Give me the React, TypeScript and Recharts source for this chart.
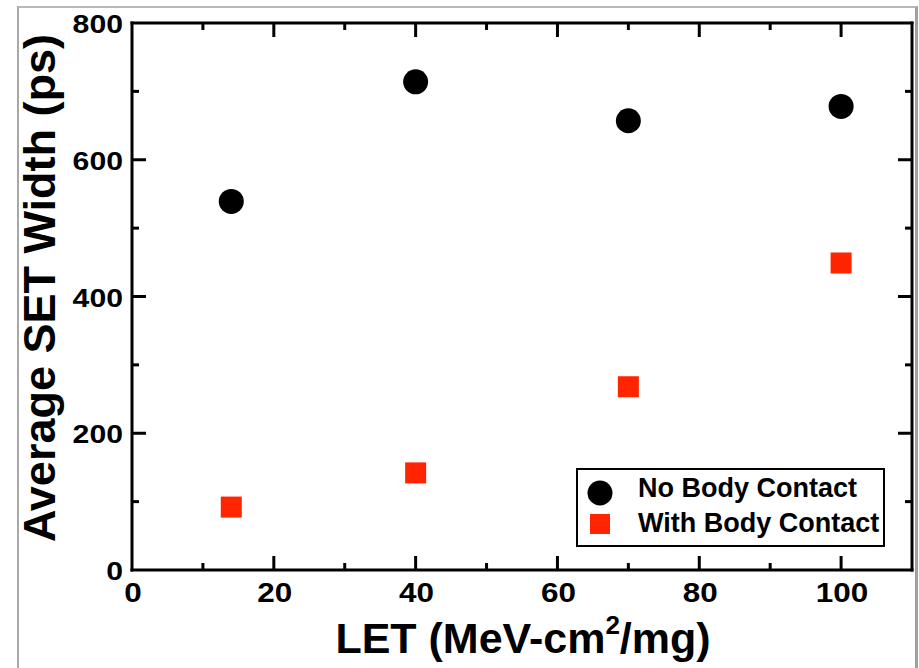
import React from 'react';
import { ScatterChart, Scatter, XAxis, YAxis, Legend } from 'recharts';

// LET values (MeV-cm2/mg)
const letValues = [14, 40, 70, 100];
// average SET width (ps)
const noBodyContact = [539, 714, 657, 678];
const withBodyContact = [92, 142, 268, 449];

const xTicks = [0, 10, 20, 30, 40, 50, 60, 70, 80, 90, 100];
const yTicks = [0, 100, 200, 300, 400, 500, 600, 700, 800];

const noBodyData = letValues.map((x, i) => ({ x, y: noBodyContact[i] }));
const withBodyData = letValues.map((x, i) => ({ x, y: withBodyContact[i] }));

const FONT = '"Liberation Sans", Arial, Helvetica, sans-serif';
const RED = '#ff2500';
const MAJOR = 14;
const MINOR = 7;

const isMajorX = (v: number) => v % 20 === 0;
const isMajorY = (v: number) => v % 200 === 0;

const BottomTick = (props: any) => {
  const { x, y, payload } = props;
  const v = payload.value;
  const len = isMajorX(v) ? MAJOR : MINOR;
  const label = String(v);
  return (
    <g>
      {v !== 0 && <line x1={x} y1={y} x2={x} y2={y - len} stroke="#000" strokeWidth={3} />}
      {isMajorX(v) && (
        <text
          x={x + 1}
          y={y + 32}
          textAnchor="middle"
          fontFamily={FONT}
          fontWeight="bold"
          fontSize={28}
          fill="#000"
          textLength={label.length * 17.5}
          lengthAdjust="spacingAndGlyphs"
        >
          {label}
        </text>
      )}
    </g>
  );
};

const TopTick = (props: any) => {
  const { x, y, payload } = props;
  const v = payload.value;
  if (v === 0) return <g />;
  const len = isMajorX(v) ? MAJOR : MINOR;
  return <line x1={x} y1={y} x2={x} y2={y + len} stroke="#000" strokeWidth={3} />;
};

const LeftTick = (props: any) => {
  const { x, y, payload } = props;
  const v = payload.value;
  const len = isMajorY(v) ? MAJOR : MINOR;
  const label = String(v);
  return (
    <g>
      {v !== 0 && v !== 800 && <line x1={x} y1={y} x2={x + len} y2={y} stroke="#000" strokeWidth={3} />}
      {isMajorY(v) && (
        <text
          x={x - 9}
          y={y + 10}
          textAnchor="end"
          fontFamily={FONT}
          fontWeight="bold"
          fontSize={26}
          fill="#000"
          textLength={label.length * 16.8}
          lengthAdjust="spacingAndGlyphs"
        >
          {label}
        </text>
      )}
    </g>
  );
};

const RightTick = (props: any) => {
  const { x, y, payload } = props;
  const v = payload.value;
  if (v === 0 || v === 800) return <g />;
  const len = isMajorY(v) ? MAJOR : MINOR;
  return <line x1={x} y1={y} x2={x - len} y2={y} stroke="#000" strokeWidth={3} />;
};

const renderXTitle = (props: any) => {
  const vb = props.viewBox;
  const cx = vb.x + vb.width / 2 + 1;
  return (
    <text x={cx} y={653} textAnchor="middle" fontFamily={FONT} fontWeight="bold" fontSize={43} fill="#000">
      <tspan>LET (MeV-cm</tspan>
      <tspan fontSize={26} dy={-19}>2</tspan>
      <tspan dy={19}>/mg)</tspan>
    </text>
  );
};

const renderYTitle = () => (
  <text
    x={55}
    y={288}
    transform="rotate(-90, 55, 288)"
    textAnchor="middle"
    fontFamily={FONT}
    fontWeight="bold"
    fontSize={45}
    fill="#000"
  >
    Average SET Width (ps)
  </text>
);

const renderLegend = (props: any) => {
  const payload = props.payload || [];
  return (
    <svg width={309} height={79} style={{ display: 'block' }}>
      <rect x={1} y={1} width={307} height={77} fill="#fff" stroke="#000" strokeWidth={2} />
      {payload.map((entry: any, i: number) => {
        const cy = 25 + i * 31;
        return (
          <g key={entry.value}>
            {entry.type === 'circle' ? (
              <circle cx={24} cy={cy} r={12.5} fill={entry.color} />
            ) : (
              <rect x={14} y={cy - 10} width={20} height={20} fill={entry.color} />
            )}
            <text x={62} y={cy + 4 + i * 4} fontFamily={FONT} fontWeight="bold" fontSize={27} fill="#000">
              {entry.value}
            </text>
          </g>
        );
      })}
    </svg>
  );
};

const axisLineStyle = { stroke: '#000', strokeWidth: 3, strokeLinecap: 'square' as const };

const App: React.FC = () => {
  return (
    <div style={{ position: 'fixed', left: 0, top: 0, width: 919, height: 668, overflow: 'hidden', background: '#fff' }}>
      <div
        style={{
          position: 'absolute',
          left: 17,
          top: 6,
          width: 896,
          height: 700,
          borderLeft: '2px solid #a8a8a8',
          borderTop: '2px solid #b8b8b8',
          borderRight: '3px solid #a0a0a0',
        }}
      />
      <div style={{ position: 'absolute', left: 0, top: 0 }}>
        <ScatterChart width={919} height={668} margin={{ top: 22, left: 131, right: 6, bottom: 97 }}>
          <XAxis
            xAxisId="bottom"
            dataKey="x"
            type="number"
            domain={[0, 110]}
            ticks={xTicks}
            interval={0}
            height={1}
            tickSize={0}
            tickMargin={0}
            tickLine={false}
            tick={BottomTick}
            axisLine={axisLineStyle}
            label={{ content: renderXTitle }}
            allowDataOverflow
          />
          <XAxis
            xAxisId="top"
            orientation="top"
            dataKey="x"
            type="number"
            domain={[0, 110]}
            ticks={xTicks}
            interval={0}
            height={1}
            tickSize={0}
            tickMargin={0}
            tickLine={false}
            tick={TopTick}
            axisLine={axisLineStyle}
            allowDataOverflow
          />
          <YAxis
            yAxisId="left"
            dataKey="y"
            type="number"
            domain={[0, 800]}
            ticks={yTicks}
            interval={0}
            width={1}
            tickSize={0}
            tickMargin={0}
            tickLine={false}
            tick={LeftTick}
            axisLine={axisLineStyle}
            label={{ content: renderYTitle }}
            allowDataOverflow
          />
          <YAxis
            yAxisId="right"
            orientation="right"
            dataKey="y"
            type="number"
            domain={[0, 800]}
            ticks={yTicks}
            interval={0}
            width={1}
            tickSize={0}
            tickMargin={0}
            tickLine={false}
            tick={RightTick}
            axisLine={axisLineStyle}
            allowDataOverflow
          />
          <Legend
            layout="vertical"
            align="center"
            verticalAlign="middle"
            content={renderLegend}
            wrapperStyle={{ left: 576, top: 468, width: 309, height: 79 }}
          />
          <Scatter
            name="No Body Contact"
            data={noBodyData}
            xAxisId="bottom"
            yAxisId="left"
            fill="#000"
            legendType="circle"
            isAnimationActive={false}
            shape={(p: any) => <circle cx={p.cx} cy={p.cy} r={12.5} fill="#000" />}
          />
          <Scatter
            name="With Body Contact"
            data={withBodyData}
            xAxisId="bottom"
            yAxisId="left"
            fill={RED}
            legendType="square"
            isAnimationActive={false}
            shape={(p: any) => <rect x={p.cx - 10.5} y={p.cy - 10.5} width={21} height={21} fill={RED} />}
          />
        </ScatterChart>
      </div>
    </div>
  );
};

export default App;
